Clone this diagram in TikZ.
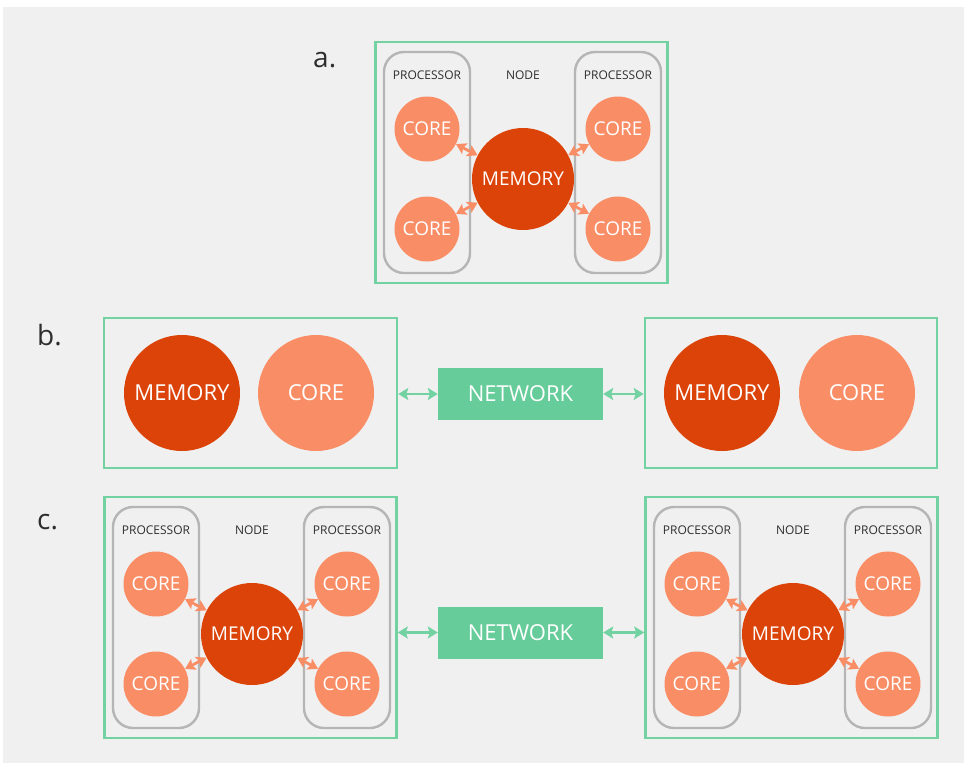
\documentclass[tikz,border=0pt]{standalone}
\usepackage{fontspec}
\setmainfont{Open Sans}
\usetikzlibrary{arrows.meta}

\definecolor{bg}{HTML}{F0F0F0}
\definecolor{memred}{HTML}{DB4309}
\definecolor{coresal}{HTML}{F98E66}
\definecolor{netgreen}{HTML}{66CC99}
\definecolor{boxgreen}{HTML}{72D2A2}
\definecolor{procgray}{HTML}{B5B5B5}
\definecolor{labgray}{HTML}{2E2E2E}

\tikzset{
  core/.style={circle, fill=coresal, text=white, minimum size=65pt, inner sep=0pt,
    font=\fontsize{19}{22}\selectfont},
  mem/.style={circle, fill=memred, text=white, minimum size=102pt, inner sep=0pt,
    font=\fontsize{19}{22}\selectfont},
  bigcore/.style={core, minimum size=116pt, font=\fontsize{22}{24}\selectfont},
  bigmem/.style={mem, minimum size=116pt, font=\fontsize{22}{24}\selectfont},
  proc/.style={draw=procgray, line width=2.4pt, rounded corners=20pt,
    minimum width=86pt, minimum height=221pt, inner sep=0pt},
  nodebox/.style={draw=boxgreen, line width=2.6pt, inner sep=0pt},
  net/.style={fill=netgreen, text=white, minimum width=165pt, minimum height=52pt,
    inner sep=0pt, font=\fontsize{22}{24}\selectfont},
  tag/.style={text=labgray, inner sep=0pt, font=\fontsize{12}{14}\selectfont},
  caption/.style={text=labgray, inner sep=0pt, anchor=base west,
    font=\fontsize{28}{30}\selectfont},
  biarrow/.style={draw=coresal, line width=2.8pt,
    {Stealth[length=10pt,width=12pt,inset=2pt]}-{Stealth[length=10pt,width=12pt,inset=2pt]}},
  netarrow/.style={draw=boxgreen, line width=2.6pt,
    {Stealth[length=10pt,width=12pt,inset=2pt]}-{Stealth[length=10pt,width=12pt,inset=2pt]}},
  % one shared-memory node: two processors with two cores each
  nodeunit/.pic={
    \node[nodebox, minimum width=292pt, minimum height=241pt] (-box) at (-1.5,-16.5) {};
    \node[proc] (-pl) at (-96,-16.5) {};
    \node[proc] (-pr) at (95,-16.5) {};
    \node[tag] (-tl) at (-96,-104) {PROCESSOR};
    \node[tag] (-tn) at (0,-104) {NODE};
    \node[tag] (-tr) at (95,-104) {PROCESSOR};
    \node[mem] (-m) at (0,0) {MEMORY};
    \node[core] (-c1) at (-96,-50) {CORE};
    \node[core] (-c2) at (-96,50) {CORE};
    \node[core] (-c3) at (95,-50) {CORE};
    \node[core] (-c4) at (95,50) {CORE};
    \draw[biarrow] (-c1) -- (-m);
    \draw[biarrow] (-c2) -- (-m);
    \draw[biarrow] (-c3) -- (-m);
    \draw[biarrow] (-c4) -- (-m);
  }
}

\begin{document}
\begin{tikzpicture}[x=1pt, y=-1pt]
  \useasboundingbox (0,0) rectangle (964,763);
  \fill[white] (0,0) rectangle (964,763);
  \fill[bg] (3,7) rectangle (964,763);

  % a. single node
  \node[caption] (capa) at (313,67) {a.};
  \pic (A) at (523,179) {nodeunit};

  % b. distributed memory
  \node[caption] (capb) at (37,345) {b.};
  \node[nodebox, minimum width=293pt, minimum height=150pt] (BL) at (250.5,393) {};
  \node[bigmem] (BLm) at (182,393) {MEMORY};
  \node[bigcore] (BLc) at (316,393) {CORE};
  \node[nodebox, minimum width=292pt, minimum height=150pt] (BR) at (791,393) {};
  \node[bigmem] (BRm) at (722,393) {MEMORY};
  \node[bigcore] (BRc) at (857,393) {CORE};
  \node[net] (NB) at (520.5,394) {NETWORK};
  \draw[netarrow] (NB.west -| BL.east) -- (NB.west);
  \draw[netarrow] (NB.east) -- (NB.east -| BR.west);

  % c. hybrid: shared-memory nodes joined by a network
  \node[caption] (capc) at (37,529) {c.};
  \pic (CL) at (252,634) {nodeunit};
  \pic (CR) at (793,634) {nodeunit};
  \node[net] (NC) at (520.5,632.5) {NETWORK};
  \draw[netarrow] (NC.west -| CL-box.east) -- (NC.west);
  \draw[netarrow] (NC.east) -- (NC.east -| CR-box.west);
\end{tikzpicture}
\end{document}
